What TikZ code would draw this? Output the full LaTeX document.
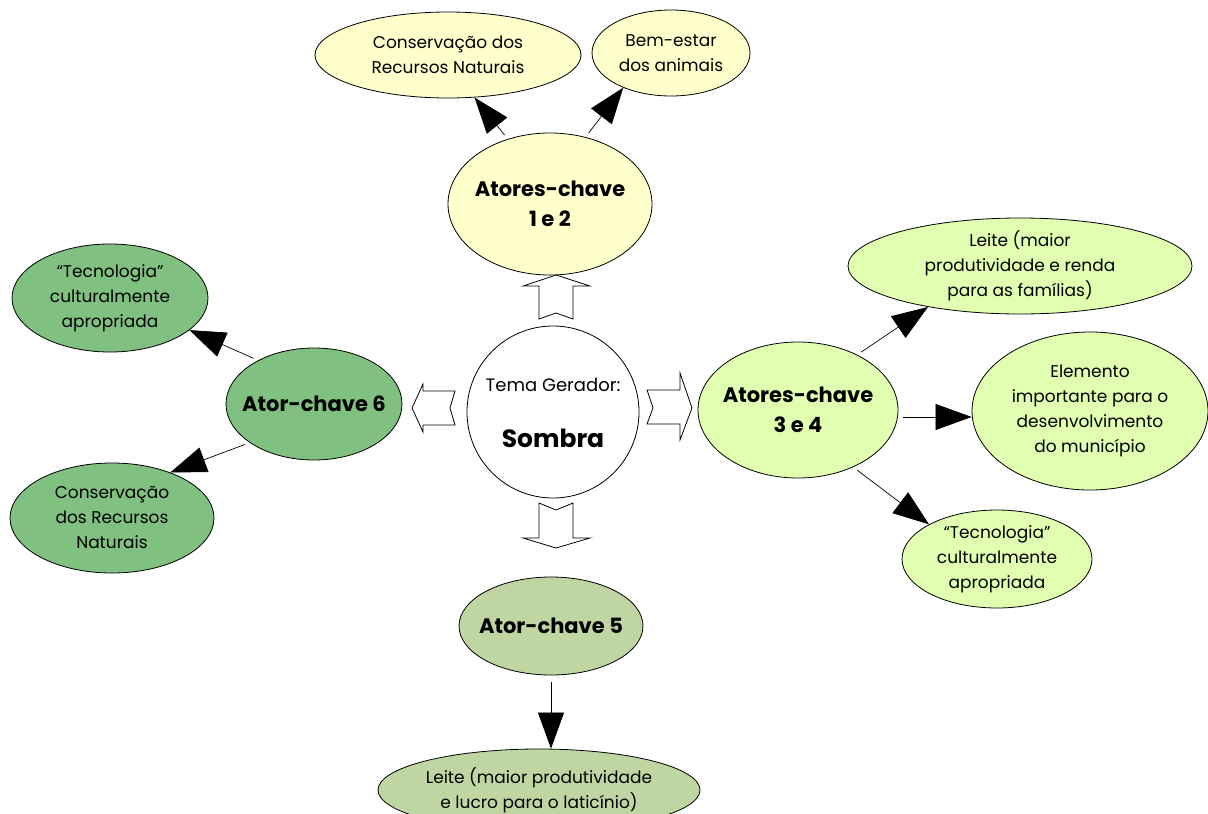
\documentclass[tikz,border=0pt]{standalone}
\usepackage{fontspec}
\setmainfont{Poppins}
\usetikzlibrary{shapes.geometric,arrows.meta,calc}

\definecolor{corAmarelo}{HTML}{FFFFCC}
\definecolor{corVerde}{HTML}{80C080}
\definecolor{corVerdeClaro}{HTML}{E0FFB0}
\definecolor{corOliva}{HTML}{C0D6A2}

\tikzset{
  balao/.style={ellipse, draw, line width=0.8pt, inner sep=0pt},
  amarelo/.style={balao, fill=corAmarelo},
  verde/.style={balao, fill=corVerde},
  claro/.style={balao, fill=corVerdeClaro},
  oliva/.style={balao, fill=corOliva},
  txt/.style={align=center, font=\fontsize{17}{25}\selectfont},
  chave/.style={align=center, font=\fontsize{21}{30}\selectfont\bfseries},
  seta/.style={draw, line width=0.7pt, shorten <=5pt, -{Triangle[length=36pt,width=26pt]}},
  bloco/.style={draw, line width=0.8pt, fill=white, line join=miter}
}

\begin{document}
\begin{tikzpicture}[x=1pt, y=-1pt]
\useasboundingbox (0,0) rectangle (1208,814);
\clip (0,0) rectangle (1208,814);

% tema central
\node[balao, circle, minimum size=172, fill=white] (gerador) at (553,412) {};
\node[txt, font=\fontsize{18}{22}\selectfont] at ($(gerador)+(0,-27)$) {Tema Gerador:};
\node[chave, font=\fontsize{25}{30}\selectfont\bfseries] at ($(gerador)+(0,26)$) {Sombra};

% atores-chave 1 e 2
\node[amarelo, minimum width=204, minimum height=142] (k12) at (550,204) {};
\node[chave] at (k12) {Atores-chave\\1 e 2};
\node[amarelo, minimum width=266, minimum height=86] (cons1) at (448,55) {};
\node[txt] at (cons1) {Conservação dos\\Recursos Naturais};
\node[amarelo, minimum width=158, minimum height=86] (bem) at (671,53) {};
\node[txt] at (bem) {Bem-estar\\dos animais};

% ator-chave 6
\node[verde, minimum width=176, minimum height=112] (k6) at (314,404) {};
\node[chave] at (k6) {Ator-chave 6};
\node[verde, minimum width=196, minimum height=108] (tec6) at (110,298) {};
\node[txt] at (tec6) {“Tecnologia”\\culturalmente\\apropriada};
\node[verde, minimum width=204, minimum height=110] (cons6) at (112,518) {};
\node[txt] at (cons6) {Conservação\\dos Recursos\\Naturais};

% atores-chave 3 e 4
\node[claro, minimum width=200, minimum height=136] (k34) at (798,410) {};
\node[chave] at (k34) {Atores-chave\\3 e 4};
\node[claro, minimum width=344, minimum height=96] (leite) at (1020,266) {};
\node[txt] at (leite) {Leite (maior\\produtividade e renda\\para as famílias)};
\node[claro, minimum width=236, minimum height=158] (elem) at (1090,411) {};
\node[txt] at (elem) {Elemento\\importante para o\\desenvolvimento\\do município};
\node[claro, minimum width=190, minimum height=98] (tec34) at (997,559) {};
\node[txt] at (tec34) {“Tecnologia”\\culturalmente\\apropriada};

% ator-chave 5
\node[oliva, minimum width=184, minimum height=98] (k5) at (551,626) {};
\node[chave] at (k5) {Ator-chave 5};
\node[oliva, minimum width=322, minimum height=82] (leite5) at (539,790) {};
\node[txt] at (leite5) {Leite (maior produtividade\\e lucro para o laticínio)};

% setas grossas em volta do tema
\draw[bloco] (556,275) -- (590,286) -- (573,286) -- (573,319) -- (556,313) -- (539,319) -- (539,286) -- (523,286) -- cycle;
\draw[bloco] (539,503) -- (556,510) -- (573,503) -- (573,538) -- (590,538) -- (556,548) -- (523,538) -- (539,538) -- cycle;
\draw[bloco] (412,408) -- (423,384) -- (423,391) -- (455,391) -- (450,408) -- (455,425) -- (423,425) -- (423,432) -- cycle;
\draw[bloco] (692,408) -- (680,373) -- (680,390) -- (647,390) -- (653,408) -- (647,424) -- (680,424) -- (680,440) -- cycle;

% setas finas
\draw[seta] (k12.123) -- (cons1.-58);
\draw[seta] (k12.62) -- (bem.-144);
\draw[seta] (k6.142) -- (tec6.-22);
\draw[seta] (k6.211) -- (cons6.38);
\draw[seta] (k34.43) -- (leite.204);
\draw[seta] (k34.-4) -- (k34.-4 -| elem.west);
\draw[seta] (k34.-46) -- (tec34.153);
\draw[seta, shorten <=7pt] (k5.south) -- (k5.south |- leite5.north);
\end{tikzpicture}
\end{document}
